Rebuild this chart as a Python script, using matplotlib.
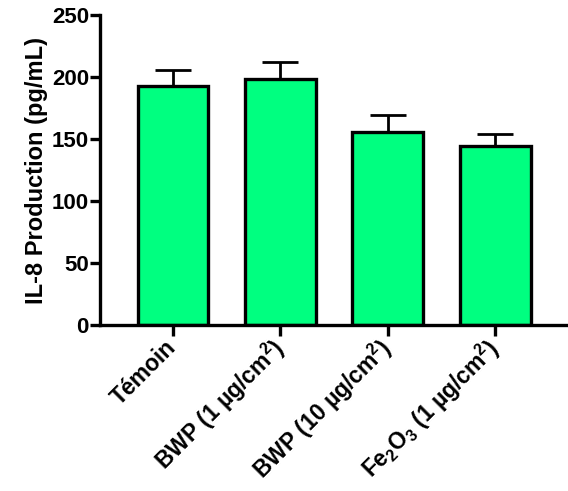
import matplotlib
matplotlib.use("Agg")
import matplotlib.pyplot as plt
import numpy as np

categories = ["Témoin",
              r"BWP (1 µg/cm$^{2}$)",
              r"BWP (10 µg/cm$^{2}$)",
              r"Fe$_{2}$O$_{3}$ (1 µg/cm$^{2}$)"]
values = [193, 198, 156, 144]
errors = [13, 14, 13, 10]
yticks = [0, 50, 100, 150, 200, 250]

plt.rcParams["font.family"] = ["Liberation Sans", "DejaVu Sans"]
plt.rcParams["font.weight"] = "bold"
plt.rcParams["mathtext.fontset"] = "custom"
plt.rcParams["mathtext.rm"] = "Liberation Sans:bold"
plt.rcParams["mathtext.it"] = "Liberation Sans:bold"
plt.rcParams["mathtext.bf"] = "Liberation Sans:bold"

W, H = 568, 491
fig = plt.figure(figsize=(W / 100, H / 100), dpi=100)
ax = fig.add_axes([100 / W, 166 / H, 466 / W, 310 / H])

x = np.arange(len(categories))
lw = 2.4
ax.errorbar(x, values, yerr=[np.zeros(len(values)), errors], fmt="none",
            ecolor="black", elinewidth=2.0, capsize=13, capthick=2.0, zorder=1)
ax.bar(x, values, width=0.66, color="#00FF80", edgecolor="black",
       linewidth=lw, zorder=2)

ax.set_xlim(-0.68, 3.66)
ax.set_ylim(0, 250)
ax.set_yticks(yticks)
ax.set_xticks(x)
ax.set_xticklabels(categories, rotation=45, ha="right", va="center",
                   rotation_mode="anchor", fontsize=16.5, fontweight="bold")
for lab in ax.get_yticklabels():
    lab.set_fontsize(16)
    lab.set_fontweight("bold")

for s in ["top", "right"]:
    ax.spines[s].set_visible(False)
for s in ["left", "bottom"]:
    ax.spines[s].set_linewidth(lw)
ax.tick_params(axis="both", width=lw, length=7, pad=1)
ax.tick_params(axis="x", length=8, pad=6)

ax.set_ylabel("IL-8 Production (pg/mL)", fontsize=17, fontweight="bold",
              labelpad=3)

fig.savefig("out.png", dpi=100)
